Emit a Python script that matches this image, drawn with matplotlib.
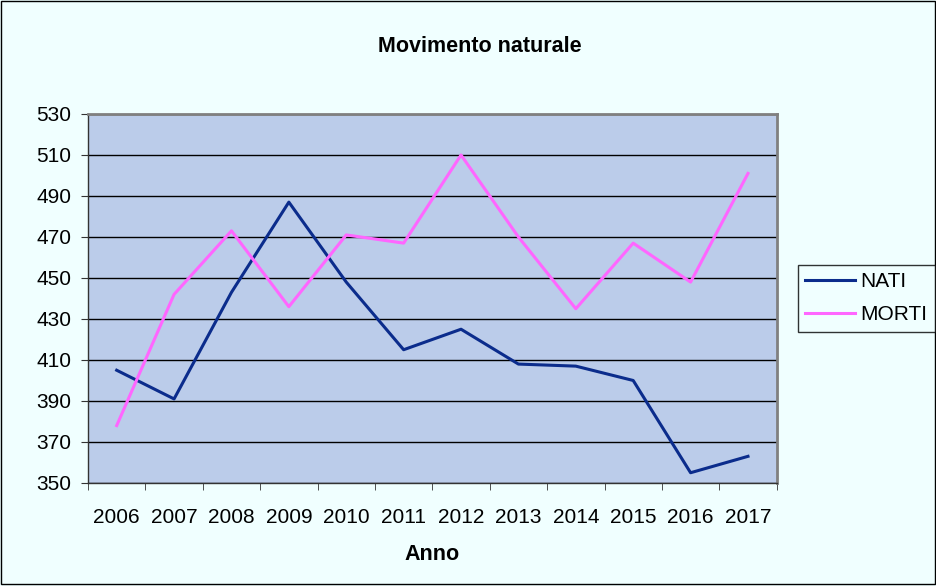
import numpy as np
import matplotlib.pyplot as plt

plt.rcParams['font.family'] = ['Liberation Sans', 'DejaVu Sans']

# Dati
anni = ['2006', '2007', '2008', '2009', '2010', '2011',
        '2012', '2013', '2014', '2015', '2016', '2017']
nati = [405, 391, 443, 487, 448, 415, 425, 408, 407, 400, 355, 363]
morti = [378, 442, 473, 436, 471, 467, 510, 470, 435, 467, 448, 501]

fig = plt.figure(figsize=(9.37, 5.86), dpi=100, facecolor='#F0FFFF')
ax = fig.add_axes([0.0939, 0.1758, 0.735, 0.6297])
ax.set_facecolor('#BBCCEA')

x = np.arange(len(anni))
ax.plot(x, nati, color='#0B2C8C', linewidth=2.2, label='NATI')
ax.plot(x, morti, color='#FF66FF', linewidth=2.2, label='MORTI')

ax.set_xlim(-0.5, len(anni) - 0.5)
ax.set_ylim(350, 530)
ax.set_yticks(np.arange(350, 531, 20))
ax.yaxis.grid(True, color='black', linewidth=1)
ax.set_axisbelow(True)

ax.set_xticks(x)
ax.set_xticklabels(anni)
ax.set_xticks(np.arange(-0.5, len(anni), 1), minor=True)
ax.tick_params(axis='x', which='major', length=0, pad=18, labelsize=15)
ax.tick_params(axis='x', which='minor', length=5, direction='out', color='#333333')
ax.tick_params(axis='y', length=5, direction='out', labelsize=15, pad=7, color='#333333')

for side in ['top', 'right']:
    ax.spines[side].set_color('#808080')
    ax.spines[side].set_linewidth(2)
for side in ['left', 'bottom']:
    ax.spines[side].set_color('#333333')
    ax.spines[side].set_linewidth(1)

fig.text(0.512, 0.92, 'Movimento naturale', ha='center', va='center',
         fontsize=15.5, fontweight='bold')
fig.text(0.461, 0.054, 'Anno', ha='center', va='center',
         fontsize=15.5, fontweight='bold')

leg = fig.legend(loc='upper left', bbox_to_anchor=(0.8515, 0.548),
                 frameon=True, fancybox=False, fontsize=15,
                 handlelength=2.4, borderpad=0.35, labelspacing=0.68,
                 handletextpad=0.25, borderaxespad=0)
leg.get_frame().set_edgecolor('black')
leg.get_frame().set_facecolor('#F0FFFF')
leg.get_frame().set_linewidth(1)

# bordo esterno
fig.patches.append(plt.Rectangle((0.001, 0.004), 0.997, 0.994, transform=fig.transFigure,
                                 fill=False, edgecolor='black', linewidth=1))

fig.savefig('out.png', dpi=100, facecolor=fig.get_facecolor())
